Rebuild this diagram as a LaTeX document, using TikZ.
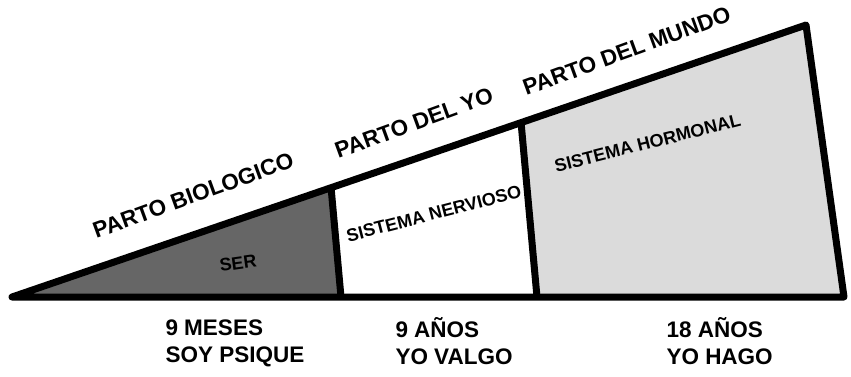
\documentclass[tikz,border=0pt]{standalone}
\usepackage{fontspec}
\setmainfont{Liberation Sans}
\usepackage{tikz}

\begin{document}
\begin{tikzpicture}[x=1pt,y=-1pt,line width=7pt,line join=round,
  big/.style={font=\fontsize{22.5}{27}\selectfont\bfseries,inner sep=0pt},
  small/.style={font=\fontsize{18}{20}\selectfont\bfseries,inner sep=0pt}]
\useasboundingbox (0,0) rectangle (851,376);
\coordinate (tip) at (12,297);
\coordinate (t1) at (331,187);
\coordinate (b1) at (341,297);
\coordinate (t2) at (521,122);
\coordinate (b2) at (537,297);
\coordinate (tr) at (806,25);
\coordinate (br) at (844,297);

\fill[black!60] (tip) -- (t1) -- (b1) -- cycle;
\fill[black!14] (t2) -- (tr) -- (br) -- (b2) -- cycle;
\draw (tip) -- (tr) -- (br) -- cycle;
\draw (t1) -- (b1);
\draw (t2) -- (b2);

\node[big,rotate=20,anchor=base west] (pbio) at (93,240) {PARTO BIOLOGICO};
\node[big,rotate=20,anchor=base west] (pyo) at (335,160) {PARTO DEL YO};
\node[big,rotate=20,anchor=base west] (pmundo) at (523,97) {PARTO DEL MUNDO};

\node[small,rotate=14.5,anchor=base west] (snerv) at (345,243) {SISTEMA NERVIOSO};
\node[small,rotate=14,anchor=base west] (shorm) at (553,173) {SISTEMA HORMONAL};
\node[small,rotate=8] (ser) at (238,263) {SER};

\node[big,anchor=base west] (meses) at (162,335) {9 MESES};
\node[big,anchor=base west] (psique) at (162,362) {SOY PSIQUE};
\node[big,anchor=base west] (anos9) at (392,337) {9 AÑOS};
\node[big,anchor=base west] (valgo) at (392,364) {YO VALGO};
\node[big,anchor=base west] (anos18) at (663,337) {18 AÑOS};
\node[big,anchor=base west] (hago) at (663,364) {YO HAGO};
\end{tikzpicture}
\end{document}
